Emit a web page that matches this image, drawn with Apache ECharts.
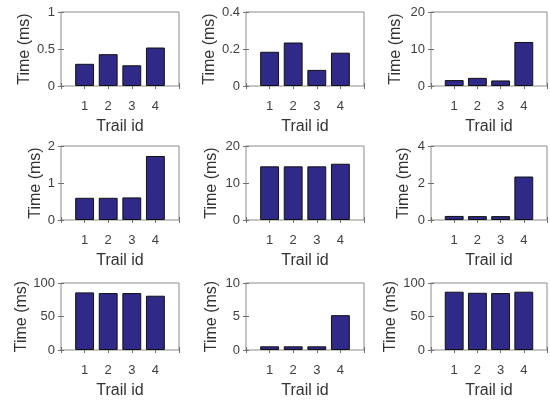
<!DOCTYPE html>
<html>
<head>
<meta charset="utf-8">
<script src="https://cdn.jsdelivr.net/npm/echarts@6/dist/echarts.min.js"></script>
<style>
  html, body { margin: 0; padding: 0; background: #fff; }
  #chart { width: 550px; height: 400px; }
</style>
</head>
<body>
<div id="chart"></div>
<script>
const trailIds = [1, 2, 3, 4]

// time per trail, one array per subplot (row by row)
const times1 = [0.3, 0.43, 0.28, 0.52]
const times2 = [0.185, 0.235, 0.087, 0.18]
const times3 = [1.6, 2.2, 1.5, 11.9]
const times4 = [0.6, 0.6, 0.61, 1.73]
const times5 = [14.5, 14.5, 14.5, 15.2]
const times6 = [0.22, 0.21, 0.21, 2.35]
const times7 = [86, 85, 85, 81]
const times8 = [0.55, 0.55, 0.55, 5.2]
const times9 = [87, 85.4, 85, 87]

const yMaxes = [1, 0.4, 20, 2, 20, 4, 100, 10, 100]

const panels = [times1, times2, times3, times4, times5, times6, times7, times8, times9]

const font = '"Liberation Sans", Arial, sans-serif'
const lefts = [61, 246, 431]
const tops = [12, 146, 283]
const boxW = 118
const boxH = 74
// distance of the y label from the box, differs per subplot
const yNameGaps = [24, 28, 27, 11, 26, 19, 31, 26, 32]

const grid = []
const xAxis = []
const yAxis = []
const series = []

panels.forEach((values, i) => {
    const row = Math.floor(i / 3)
    const col = i % 3
    grid.push({
        left: lefts[col],
        top: tops[row],
        width: boxW,
        height: boxH,
        show: true,
        borderColor: '#8c8c8c',
        borderWidth: 1,
        backgroundColor: 'transparent'
    })
    const tick = { show: true, inside: true, length: 3, lineStyle: { color: '#707070' } }
    // bottom x axis with labels
    xAxis.push({
        type: 'value',
        gridIndex: i,
        min: 0,
        max: 5,
        interval: 1,
        axisLine: { show: false },
        splitLine: { show: false },
        axisTick: tick,
        axisLabel: {
            color: '#404040',
            fontFamily: font,
            fontSize: 13,
            margin: 14,
            formatter: v => (v >= 1 && v <= 4 ? String(v) : '')
        },
        name: 'Trail id',
        nameLocation: 'middle',
        nameGap: 33,
        nameTextStyle: { color: '#333', fontFamily: font, fontSize: 16 }
    })
    // top x axis, ticks only
    xAxis.push({
        type: 'value',
        gridIndex: i,
        position: 'top',
        min: 0,
        max: 5,
        interval: 1,
        axisLine: { show: false },
        splitLine: { show: false },
        axisTick: tick,
        axisLabel: { show: false }
    })
    const m = yMaxes[i]
    yAxis.push({
        type: 'value',
        gridIndex: i,
        min: 0,
        max: m,
        interval: m / 2,
        axisLine: { show: false },
        splitLine: { show: false },
        axisTick: tick,
        axisLabel: { color: '#404040', fontFamily: font, fontSize: 13, margin: 6 },
        name: 'Time (ms)',
        nameLocation: 'middle',
        nameGap: yNameGaps[i],
        nameTextStyle: { color: '#333', fontFamily: font, fontSize: 16 }
    })
    yAxis.push({
        type: 'value',
        gridIndex: i,
        position: 'right',
        min: 0,
        max: m,
        interval: m / 2,
        axisLine: { show: false },
        splitLine: { show: false },
        axisTick: tick,
        axisLabel: { show: false }
    })
    series.push({
        type: 'bar',
        xAxisIndex: i * 2,
        yAxisIndex: i * 2,
        barWidth: 0.8 * boxW / 5,
        data: trailIds.map((id, k) => [id, values[k]]),
        itemStyle: { color: '#2f2a87', borderColor: '#111', borderWidth: 1 },
        silent: true
    })
})

const chart = echarts.init(document.getElementById('chart'), null, { renderer: 'canvas' })
chart.setOption({
    animation: false,
    backgroundColor: '#fff',
    grid,
    xAxis,
    yAxis,
    series
})
</script>
</body>
</html>
